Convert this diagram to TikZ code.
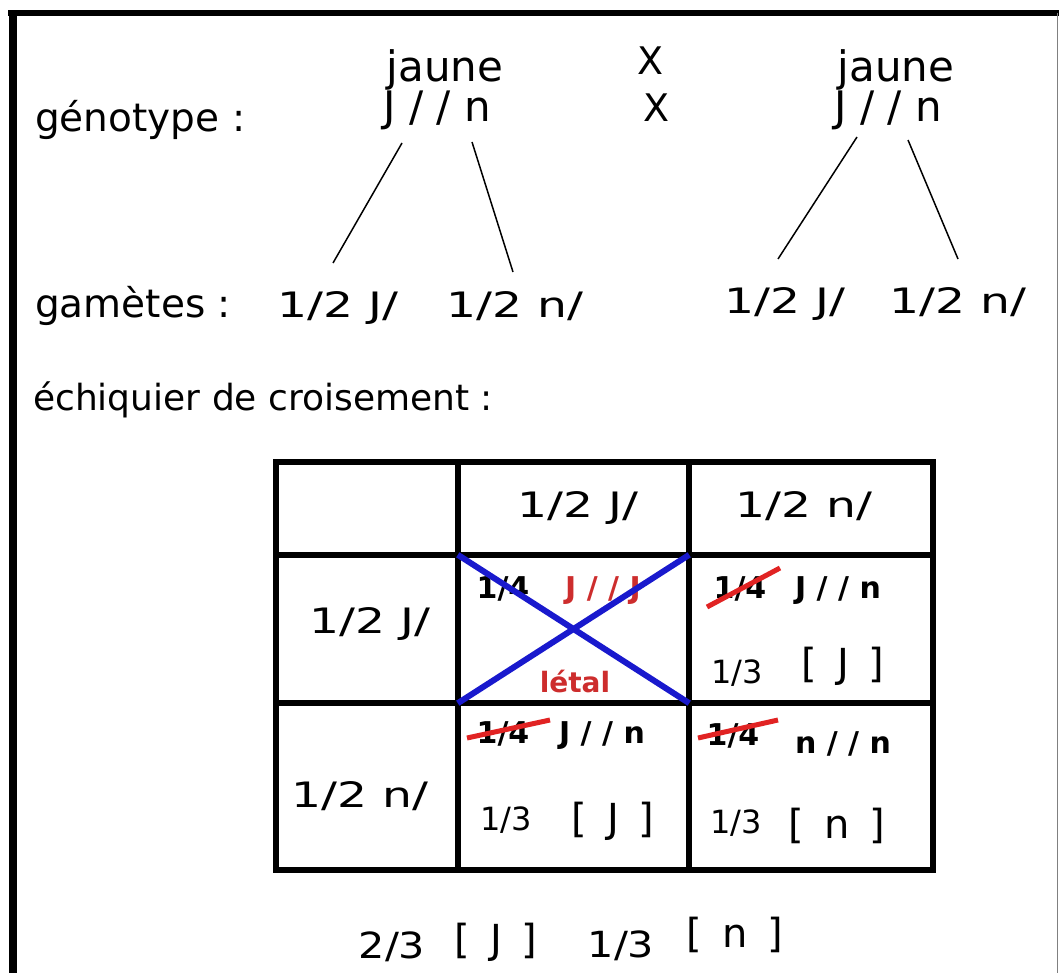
\documentclass[tikz,border=0pt]{standalone}
\usepackage{fontspec}
\setmainfont{DejaVu Sans}
\newfontfamily\wideface[FakeStretch=1.35]{DejaVu Sans}
\newfontfamily\resface[FakeStretch=1.15]{DejaVu Sans}
\usepackage{xcolor}
\definecolor{crossblue}{RGB}{25,25,205}
\definecolor{strikered}{RGB}{225,35,35}
\definecolor{deadred}{RGB}{205,45,45}
\usetikzlibrary{positioning}

\tikzset{
  lbl/.style={font=\fontsize{36}{40}\selectfont, anchor=base west, inner sep=0pt},
  biglbl/.style={lbl, font=\fontsize{39}{43}\selectfont},
  parent/.style={font=\fontsize{42}{46}\selectfont, anchor=base, inner sep=0pt},
  crossx/.style={font=\fontsize{38}{42}\selectfont, anchor=base, inner sep=0pt},
  frac/.style={font=\wideface\fontsize{35}{40}\selectfont, anchor=base, inner sep=0pt},
  geno/.style={font=\bfseries\fontsize{30}{34}\selectfont, anchor=base, inner sep=0pt},
  pheno/.style={font=\fontsize{32}{36}\selectfont, anchor=base, inner sep=0pt},
  brk/.style={font=\fontsize{40}{44}\selectfont, anchor=base, inner sep=0pt},
  res/.style={font=\resface\fontsize{36}{40}\selectfont, anchor=base, inner sep=0pt},
  gridline/.style={line width=6pt},
  strike/.style={draw=strikered, line width=5pt},
  branch/.style={line width=1.5pt}
}

\begin{document}
\begin{tikzpicture}[x=1pt,y=-1pt]
\useasboundingbox (0,0) rectangle (1059,973);

% frame
\draw[line width=6pt] (8,13.5) -- (1059,13.5);
\draw[line width=8pt] (12.5,10.5) -- (12.5,973);
\draw[line width=1.5pt, gray] (1057.5,13) -- (1057.5,973);

% parents
\node[biglbl] (genolbl) at (35,132) {génotype :};
\node[parent] (jauneL) at (445,82) {jaune};
\node[parent] (jauneR) at (896,82) {jaune};
\node[crossx] (xtop) at (651,75) {X};
\node[crossx] (xbot) at (657,122) {X};
\node[parent] (gtL) at (437,122) {J / / n};
\node[parent] (gtR) at (888,122) {J / / n};

% gametes
\node[biglbl] (gamlbl) at (35,317) {gamètes :};
\node[frac] (gamL1) at (338,317) {1/2 J/};
\node[frac] (gamL2) at (515,317) {1/2 n/};
\node[frac] (gamR1) at (785,313) {1/2 J/};
\node[frac] (gamR2) at (958,313) {1/2 n/};

\draw[branch] ([shift={(-35,21)}]gtL.base) -- ([shift={(-5,-54)}]gamL1.base);
\draw[branch] ([shift={(35,20)}]gtL.base) -- ([shift={(-2,-45)}]gamL2.base);
\draw[branch] ([shift={(-31,15)}]gtR.base) -- ([shift={(-7,-54)}]gamR1.base);
\draw[branch] ([shift={(20,18)}]gtR.base) -- ([shift={(0,-54)}]gamR2.base);

\node[lbl] (echilbl) at (33,410) {échiquier de croisement :};

% grid
\draw[gridline] (276,462) rectangle (933,870);
\foreach \xx in {458,689}
  \draw[gridline] (\xx,462) -- (\xx,870);
\foreach \yy in {555,703}
  \draw[gridline] (276,\yy) -- (933,\yy);

% headers
\node[frac] (hJ) at (578,517) {1/2 J/};
\node[frac] (hn) at (804,517) {1/2 n/};
\node[frac] (rJ) at (370,633) {1/2 J/};
\node[frac] (rn) at (360,807) {1/2 n/};

% cell J/ x J/
\node[inner sep=0pt, minimum width=231pt, minimum height=148pt] (box11) at (573.5,629) {};
\node[geno] (q11) at (503,598) {1/4};
\node[geno, text=deadred] (g11) at (603,598) {J / / J};
\node[geno, text=deadred, font=\bfseries\fontsize{28}{32}\selectfont] (dead) at (575,692) {létal};
\draw[crossblue, line width=6pt] (box11.north west) -- (box11.south east);
\draw[crossblue, line width=6pt] (box11.north east) -- (box11.south west);

% cell J/ x n/
\node[geno] (q12) at (740,598) {1/4};
\node[geno] (g12) at (838,598) {J / / n};
\node[pheno] (f12) at (737,683) {1/3};
\node[brk] (p12) at (843,677) {[\enspace J\enspace]};
\draw[strike] ([shift={(-33,9)}]q12.base) -- ([shift={(40,-30)}]q12.base);

% cell n/ x J/
\node[geno] (q21) at (503,743) {1/4};
\node[geno] (g21) at (602,743) {J / / n};
\node[pheno] (f21) at (506,830) {1/3};
\node[brk] (p21) at (613,832) {[\enspace J\enspace]};
\draw[strike] ([shift={(-36,-5)}]q21.base) -- ([shift={(47,-23)}]q21.base);

% cell n/ x n/
\node[geno] (q22) at (733,745) {1/4};
\node[geno] (g22) at (843,753) {n / / n};
\node[pheno] (f22) at (736,833) {1/3};
\node[brk] (p22) at (837,838) {[\enspace n\enspace]};
\draw[strike] ([shift={(-35,-7)}]q22.base) -- ([shift={(45,-25)}]q22.base);

% result
\node[res] (r1) at (392,958) {2/3};
\node[brk] (r2) at (496,953) {[\enspace J\enspace]};
\node[res] (r3) at (621,957) {1/3};
\node[brk] (r4) at (735,947) {[\enspace n\enspace]};
\end{tikzpicture}
\end{document}
